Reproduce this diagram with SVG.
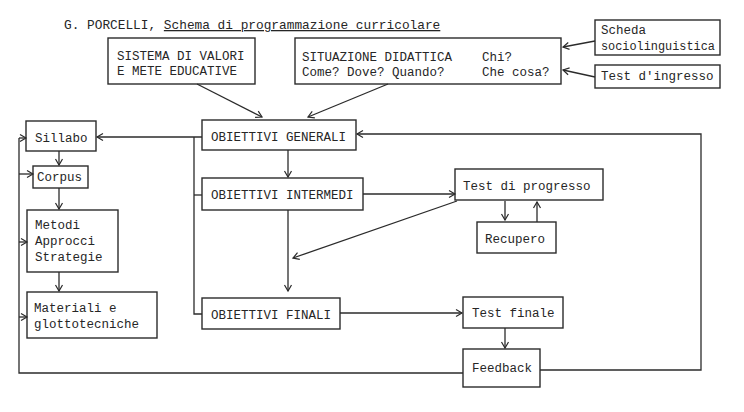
<svg xmlns="http://www.w3.org/2000/svg" width="744" height="412" viewBox="0 0 744 412">
<style>
  .bg { fill: #ffffff; }
  .box { fill: none; stroke: #2b2b2b; stroke-width: 1.4; }
  .t { font-family: "Liberation Mono", "DejaVu Sans Mono", monospace; font-size: 12.5px; fill: #262626; }
  .title { font-family: "Liberation Mono", "DejaVu Sans Mono", monospace; font-size: 12.8px; fill: #262626; }
  .c { fill: none; stroke: #2b2b2b; stroke-width: 1.3; }
  .ca { fill: none; stroke: #2b2b2b; stroke-width: 1.3; marker-end: url(#ah); }
</style>
<defs>
  <marker id="ah" markerUnits="userSpaceOnUse" markerWidth="10" markerHeight="10" viewBox="0 0 10 10" refX="7" refY="5" orient="auto">
    <path d="M1,1.5 L7,5 L1,8.5" fill="none" stroke="#2b2b2b" stroke-width="1.2"/>
  </marker>
</defs>
<rect class="bg" x="0" y="0" width="744" height="412"/>

<text class="title" x="64" y="29">G. PORCELLI, <tspan text-decoration="underline">Schema di programmazione curricolare</tspan></text>

<g id="connectors">
  <!-- top inputs -->
  <line class="ca" x1="197" y1="84" x2="262" y2="117"/>
  <line class="ca" x1="388" y1="84" x2="308" y2="117"/>
  <line class="ca" x1="595" y1="41" x2="563" y2="47"/>
  <line class="ca" x1="595" y1="77" x2="563" y2="70"/>
  <!-- OG to Sillabo and bracket -->
  <line class="ca" x1="202" y1="137" x2="97" y2="137"/>
  <polyline class="c" points="194,137 194,314 202,314"/>
  <line class="c" x1="194" y1="195" x2="202" y2="195"/>
  <!-- left column chain -->
  <line class="ca" x1="59" y1="151" x2="59" y2="165"/>
  <line class="ca" x1="59" y1="188" x2="59" y2="209"/>
  <line class="ca" x1="59" y1="272" x2="59" y2="291"/>
  <!-- left feedback line -->
  <polyline class="c" points="463,373 19,373 19,138"/>
  <line class="ca" x1="19" y1="138" x2="26" y2="138"/>
  <line class="ca" x1="19" y1="174" x2="33" y2="174"/>
  <line class="ca" x1="19" y1="242" x2="27" y2="242"/>
  <line class="ca" x1="19" y1="317" x2="27" y2="317"/>
  <!-- objectives chain -->
  <line class="ca" x1="288" y1="150" x2="288" y2="177"/>
  <line class="ca" x1="288" y1="210" x2="288" y2="291"/>
  <line class="ca" x1="363" y1="194" x2="455" y2="194"/>
  <line class="ca" x1="457" y1="201" x2="293" y2="258"/>
  <!-- recupero loop -->
  <line class="ca" x1="505" y1="201" x2="505" y2="220"/>
  <line class="ca" x1="537" y1="222" x2="537" y2="202"/>
  <!-- final -->
  <line class="ca" x1="340" y1="313" x2="462" y2="313"/>
  <line class="ca" x1="505" y1="328" x2="505" y2="348"/>
  <!-- big feedback loop -->
  <polyline class="ca" points="540,370 701,370 701,134 357,134"/>
</g>

<g id="sistema">
  <rect class="box" x="108" y="38" width="147" height="46"/>
  <text class="t" x="117" y="60">SISTEMA DI VALORI</text>
  <text class="t" x="117" y="75">E METE EDUCATIVE</text>
</g>
<g id="situazione">
  <rect class="box" x="295" y="38" width="266" height="46"/>
  <text class="t" x="302" y="61">SITUAZIONE DIDATTICA</text>
  <text class="t" x="482" y="61">Chi?</text>
  <text class="t" x="302" y="76">Come? Dove?</text>
  <text class="t" x="392" y="76">Quando?</text>
  <text class="t" x="482" y="76">Che cosa?</text>
</g>
<g id="scheda">
  <rect class="box" x="595" y="20" width="125" height="35"/>
  <text class="t" x="601" y="34">Scheda</text>
  <text class="t" x="601" y="50" textLength="114" lengthAdjust="spacingAndGlyphs">sociolinguistica</text>
</g>
<g id="test-ingresso">
  <rect class="box" x="595" y="65" width="125" height="23"/>
  <text class="t" x="601" y="80">Test d'ingresso</text>
</g>
<g id="sillabo">
  <rect class="box" x="26" y="121" width="70" height="30"/>
  <text class="t" x="35" y="142">Sillabo</text>
</g>
<g id="corpus">
  <rect class="box" x="33" y="166" width="55" height="22"/>
  <text class="t" x="37" y="181">Corpus</text>
</g>
<g id="metodi">
  <rect class="box" x="27" y="210" width="91" height="62"/>
  <text class="t" x="35" y="229">Metodi</text>
  <text class="t" x="35" y="245">Approcci</text>
  <text class="t" x="35" y="261">Strategie</text>
</g>
<g id="materiali">
  <rect class="box" x="27" y="292" width="130" height="46"/>
  <text class="t" x="34" y="312">Materiali e</text>
  <text class="t" x="34" y="328">glottotecniche</text>
</g>
<g id="obiettivi-generali">
  <rect class="box" x="202" y="120" width="154" height="30"/>
  <text class="t" x="211" y="141">OBIETTIVI GENERALI</text>
</g>
<g id="obiettivi-intermedi">
  <rect class="box" x="202" y="178" width="161" height="32"/>
  <text class="t" x="211" y="199">OBIETTIVI INTERMEDI</text>
</g>
<g id="obiettivi-finali">
  <rect class="box" x="202" y="298" width="138" height="31"/>
  <text class="t" x="211" y="319">OBIETTIVI FINALI</text>
</g>
<g id="test-progresso">
  <rect class="box" x="455" y="169" width="148" height="31"/>
  <text class="t" x="463" y="190">Test di progresso</text>
</g>
<g id="recupero">
  <rect class="box" x="477" y="222" width="79" height="31"/>
  <text class="t" x="485" y="243">Recupero</text>
</g>
<g id="test-finale">
  <rect class="box" x="463" y="297" width="100" height="31"/>
  <text class="t" x="472" y="317">Test finale</text>
</g>
<g id="feedback">
  <rect class="box" x="463" y="349" width="77" height="38"/>
  <text class="t" x="472" y="372">Feedback</text>
</g>
</svg>
